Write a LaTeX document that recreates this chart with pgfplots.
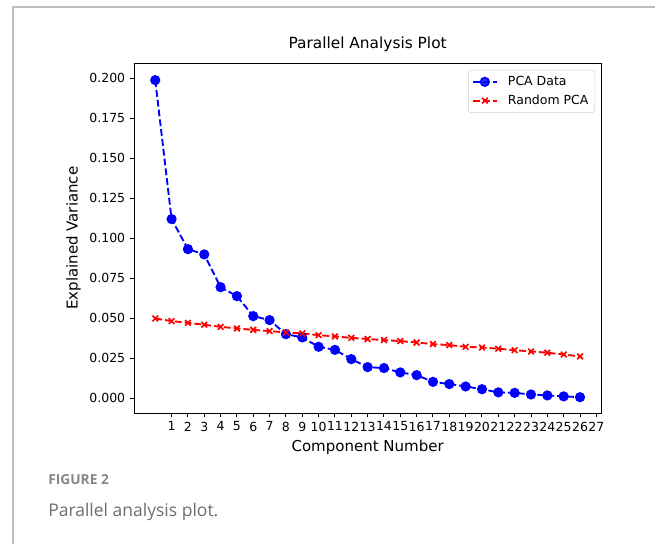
\documentclass[border=0pt]{standalone}
\usepackage{fontspec}
\setmainfont{DejaVu Sans}
\newfontfamily\capfont{Open Sans}
\usepackage{pgfplots}
\pgfplotsset{compat=1.18}

\definecolor{pcablue}{RGB}{0,0,255}
\definecolor{rndred}{RGB}{255,0,0}
\definecolor{framegray}{RGB}{190,190,190}
\definecolor{capgray}{RGB}{110,110,112}
\definecolor{figgray}{RGB}{135,135,137}

\begin{document}
\begin{tikzpicture}[x=0.8pt,y=0.8pt]
  % page frame and caption (1 unit = 1 px of the 655x544 figure)
  \path[use as bounding box] (0,0) rectangle (655,544);
  \draw[framegray, line width=1.5pt] (13,0) -- (13,537) -- (655,537);
  \node[anchor=base west, text=figgray, inner sep=0pt] at (48,60)
    {\capfont\bfseries\fontsize{11}{13}\selectfont FIGURE 2};
  \node[anchor=base west, text=capgray, inner sep=0pt] at (48,28)
    {\capfont\fontsize{14}{17}\selectfont Parallel analysis plot.};

  \begin{axis}[
      at={(107.2pt,104.8pt)}, anchor=south west,
      scale only axis, width=373.8pt, height=279.6pt,
      xmin=-1.3, xmax=27.3, ymin=-0.0093, ymax=0.2093,
      xtick={1,...,27},
      ytick={0,0.025,0.05,0.075,0.1,0.125,0.15,0.175,0.2},
      scaled y ticks=false,
      yticklabel style={/pgf/number format/.cd, fixed, fixed zerofill, precision=3},
      /pgf/number format/assume math mode=true,
      tick label style={font=\fontsize{10}{12}\selectfont},
      tick align=outside, xtick pos=bottom, ytick pos=left,
      major tick length=3.5pt,
      axis line style={line width=0.8pt},
      every tick/.style={line width=0.8pt, black},
      title={Parallel Analysis Plot},
      title style={font=\fontsize{12.3}{14}\selectfont},
      xlabel={Component Number},
      ylabel={Explained Variance},
      label style={font=\fontsize{12}{14}\selectfont},
      legend style={at={(1,1)}, anchor=north east, xshift=-5pt, yshift=-5pt,
        draw=black!20, rounded corners=2pt, fill=white, fill opacity=0.8,
        text opacity=1, font=\fontsize{10}{12}\selectfont,
        row sep=2pt, inner sep=3pt},
      legend cell align=left,
      legend image code/.code={
        \draw[#1] (0pt,0pt) -- (19pt,0pt);
        \draw[#1, only marks] plot coordinates {(9.5pt,0pt)};
        \path[draw=none] (0pt,0pt) -- (26pt,0pt);
      },
    ]
    \addplot[pcablue, line width=1.5pt, dash pattern=on 5.5pt off 2.4pt,
      mark=*, mark size=3.3pt, mark options={solid, fill=pcablue}]
      coordinates {
        (0,0.1989)(1,0.1120)(2,0.0932)(3,0.0899)(4,0.0694)(5,0.0638)
        (6,0.0513)(7,0.0488)(8,0.0400)(9,0.0380)(10,0.0321)(11,0.0302)
        (12,0.0244)(13,0.0194)(14,0.0188)(15,0.0161)(16,0.0144)(17,0.0102)
        (18,0.0088)(19,0.0073)(20,0.0056)(21,0.0036)(22,0.0033)(23,0.0023)
        (24,0.0017)(25,0.0011)(26,0.0006)};
    \addlegendentry{PCA Data}
    \addplot[rndred, line width=1.5pt, dash pattern=on 5.5pt off 2.4pt,
      mark=x, mark size=3.2pt, mark options={solid, line width=1.3pt}]
      coordinates {
        (0,0.0498)(1,0.0482)(2,0.0471)(3,0.0459)(4,0.0446)(5,0.0436)
        (6,0.0427)(7,0.0419)(8,0.0411)(9,0.0405)(10,0.0394)(11,0.0386)
        (12,0.0377)(13,0.0370)(14,0.0363)(15,0.0357)(16,0.0348)(17,0.0338)
        (18,0.0332)(19,0.0321)(20,0.0317)(21,0.0309)(22,0.0300)(23,0.0292)
        (24,0.0284)(25,0.0273)(26,0.0261)};
    \addlegendentry{Random PCA}
  \end{axis}
\end{tikzpicture}
\end{document}
